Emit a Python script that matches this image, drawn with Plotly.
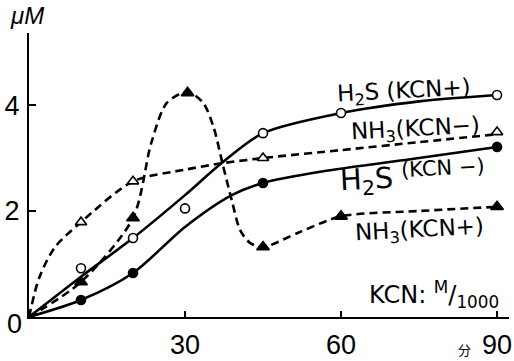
import plotly.graph_objects as go

# ---- data (minutes, μM) ----
t_meas = [10, 20, 30, 45, 60, 90]
h2s_kcn_plus = [0.92, 1.49, 2.05, 3.47, 3.85, 4.19]          # open circles
t_meas4 = [10, 20, 45, 90]
h2s_kcn_minus = [0.32, 0.83, 2.53, 3.21]                     # filled circles
nh3_kcn_minus = [1.79, 2.56, 3.0, 3.49]                      # open triangles
t_nh3p = [10, 20, 30.5, 45, 60, 90]
nh3_kcn_plus = [0.66, 1.87, 4.23, 1.32, 1.9, 2.08]           # filled triangles

# smooth hand-drawn curves (knots)
c_h2s_p_t = [0, 10, 20, 30, 37, 45, 60, 75, 90]
c_h2s_p_v = [0, 0.76, 1.49, 2.3, 2.9, 3.47, 3.85, 4.07, 4.19]
c_h2s_m_t = [0, 10, 20, 30, 39, 45, 56, 75, 90]
c_h2s_m_v = [0, 0.32, 0.83, 1.7, 2.3, 2.53, 2.74, 3.0, 3.21]
c_nh3_m_t = [0, 2, 5, 10, 20, 30, 37, 45, 60, 75, 90]
c_nh3_m_v = [0, 0.75, 1.32, 1.79, 2.56, 2.78, 2.9, 3.0, 3.15, 3.3, 3.45]
c_nh3_p_t = [0, 10, 20, 23.5, 26.5, 30.5, 33.5, 35.5, 37.2, 39, 40.6, 42.5, 45, 52, 60, 75, 90]
c_nh3_p_v = [0, 0.66, 1.87, 3.28, 4.04, 4.25, 4.04, 3.58, 2.9, 2.2, 1.64, 1.4, 1.32, 1.6, 1.9, 2.0, 2.08]

x_ticks = [30, 60, 90]
y_ticks = [2, 4]

FONT = "Liberation Sans"
LFONT = "DejaVu Sans"
LW = 2.6
fig = go.Figure()

def curve(t, v, dash):
    fig.add_trace(go.Scatter(x=t, y=v, mode="lines",
                             line=dict(color="black", width=LW, dash=dash, shape="spline", smoothing=0.8),
                             showlegend=False, hoverinfo="skip"))

curve(c_h2s_p_t, c_h2s_p_v, "solid")
curve(c_h2s_m_t, c_h2s_m_v, "solid")
curve(c_nh3_m_t, c_nh3_m_v, "8px,5px")
curve(c_nh3_p_t, c_nh3_p_v, "8px,5px")

def pts(t, v, symbol, fill, size):
    fig.add_trace(go.Scatter(x=t, y=v, mode="markers", cliponaxis=False,
                             marker=dict(symbol=symbol, size=size, color=fill,
                                         line=dict(color="black", width=1.6)),
                             showlegend=False))

pts(t_meas, h2s_kcn_plus, "circle", "white", 9)
pts(t_meas4, h2s_kcn_minus, "circle", "black", 9)
pts(t_meas4, nh3_kcn_minus, "triangle-up", "white", 10)
pts(t_nh3p, nh3_kcn_plus, "triangle-up", "black", 11)

# layout geometry: x0 at 29px, 5.2 px/min; y0 at 317px, 53 px/unit
W, H = 514, 361
L, B, T = 29, 44, 33
xr = [0, 92.3]
yr = [0, 5.36]
PW = W - L - 5
PH = H - T - B
R = W - L - PW

def ann(text, xp, yp, size=22, family=LFONT, **kw):
    fig.add_annotation(text=text, x=(xp - L) / PW, y=(H - B - yp) / PH,
                       xref="paper", yref="paper", xanchor="center", yanchor="middle",
                       showarrow=False, font=dict(size=size, family=family, color="black"), **kw)

fig.update_layout(
    width=W, height=H,
    margin=dict(l=L, r=R, t=T, b=B, autoexpand=False),
    paper_bgcolor="white", plot_bgcolor="white",
    font=dict(family=FONT, color="black"),
    xaxis=dict(range=xr, tickvals=x_ticks, ticktext=[str(v) for v in x_ticks],
               ticks="inside", ticklen=6, tickwidth=1.5, tickcolor="black",
               showline=True, linecolor="black", linewidth=2.2,
               showgrid=False, zeroline=False, automargin=False,
               tickfont=dict(size=27, family=FONT), ticklabelstandoff=2),
    yaxis=dict(range=yr, tickvals=y_ticks, ticktext=[str(v) for v in y_ticks],
               ticks="inside", ticklen=7, tickwidth=1.5, tickcolor="black",
               showline=True, linecolor="black", linewidth=2.2,
               showgrid=False, zeroline=False, automargin=False,
               tickfont=dict(size=27, family=FONT), ticklabelstandoff=2),
)

ann("0", 14, 324, size=27, family=FONT)
ann("<i>μM</i>", 27, 16, size=24, family=FONT)
ann("分", 464, 349, size=13, family="Noto Sans CJK JP")
ann("H<sub>2</sub>S (KCN+)", 404, 92, size=23, textangle=-3)
ann("NH<sub>3</sub>(KCN−)", 415, 130, size=23, textangle=-3)
ann("H<sub>2</sub>S", 366, 181, size=29, textangle=-3)
ann("(KCN −)", 443, 168, size=21, textangle=-3)
ann("NH<sub>3</sub>(KCN+)", 419, 231, size=23, textangle=-3)
ann("KCN: <sup>M</sup>/<sub>1000</sub>", 434, 294, size=24)

fig.write_html("out.html")
